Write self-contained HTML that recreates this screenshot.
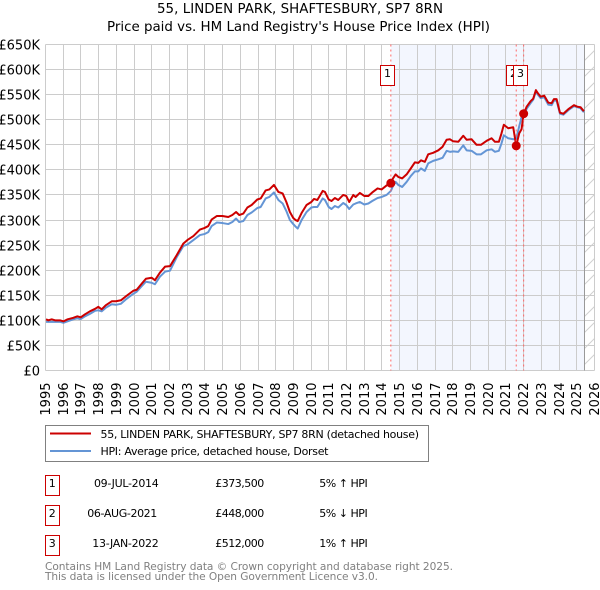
<!DOCTYPE html>
<html lang="en">
<head>
<meta charset="utf-8">
<title>55, Linden Park price paid vs HPI</title>
<style>
html,body{margin:0;padding:0;background:#fff;width:600px;height:590px;overflow:hidden}
svg{display:block}
text{font-family:"DejaVu Sans",sans-serif;fill:#000}
</style>
</head>
<body>
<svg id="chart" xmlns="http://www.w3.org/2000/svg" width="600" height="590" viewBox="0 0 600 590">
  <defs>
    <pattern id="hatch" patternUnits="userSpaceOnUse" width="16" height="16" y="44.5" x="584.5">
      <path d="M-2 18 L18 -2 M-2 2 L2 -2 M14 18 L18 14" stroke="#d0d0d0" stroke-width="1" fill="none"/>
    </pattern>
  </defs>
  <text x="157" y="13" font-size="13.4" textLength="286" lengthAdjust="spacing">55, LINDEN PARK, SHAFTESBURY, SP7 8RN</text>
  <text x="107" y="31" font-size="13.4" textLength="383" lengthAdjust="spacing">Price paid vs. HM Land Registry's House Price Index (HPI)</text>
  <g id="bands"></g>
  <g id="grid"></g>
  <g id="axes"></g>
  <g id="series"></g>
  <g id="sales"></g>

  <g>
    <rect x="45.5" y="425.5" width="383" height="36" fill="#fff" stroke="#808080" stroke-width="1"/>
    <line x1="50" x2="91" y1="433.5" y2="433.5" stroke="#cc0000" stroke-width="2"/>
    <text x="100.5" y="438" font-size="11" textLength="318.5" lengthAdjust="spacing">55, LINDEN PARK, SHAFTESBURY, SP7 8RN (detached house)</text>
    <line x1="50" x2="91" y1="451" y2="451" stroke="#6495d5" stroke-width="2"/>
    <text x="100.5" y="455" font-size="11" textLength="228" lengthAdjust="spacing">HPI: Average price, detached house, Dorset</text>
  </g>

  <g>
    <g>
      <rect x="45.5" y="475.5" width="14" height="20" fill="#fff" stroke="#cc0000"/>
      <text x="52.3" y="487" text-anchor="middle" font-size="11">1</text>
      <text x="94" y="487" font-size="11" textLength="64.7" lengthAdjust="spacing">09-JUL-2014</text>
      <text x="215.3" y="487" font-size="11" textLength="49" lengthAdjust="spacing">£373,500</text>
      <text x="319.3" y="487" font-size="11" textLength="48.4" lengthAdjust="spacing">5% ↑ HPI</text>
    </g>
    <g>
      <rect x="45.5" y="505.5" width="14" height="20" fill="#fff" stroke="#cc0000"/>
      <text x="52.3" y="517" text-anchor="middle" font-size="11">2</text>
      <text x="87.3" y="517" font-size="11" textLength="70" lengthAdjust="spacing">06-AUG-2021</text>
      <text x="215.3" y="517" font-size="11" textLength="49" lengthAdjust="spacing">£448,000</text>
      <text x="319.3" y="517" font-size="11" textLength="48.4" lengthAdjust="spacing">5% ↓ HPI</text>
    </g>
    <g>
      <rect x="45.5" y="535.5" width="14" height="20" fill="#fff" stroke="#cc0000"/>
      <text x="52.3" y="547" text-anchor="middle" font-size="11">3</text>
      <text x="92.3" y="547" font-size="11" textLength="66.4" lengthAdjust="spacing">13-JAN-2022</text>
      <text x="215.3" y="547" font-size="11" textLength="49" lengthAdjust="spacing">£512,000</text>
      <text x="319.3" y="547" font-size="11" textLength="48.4" lengthAdjust="spacing">1% ↑ HPI</text>
    </g>
  </g>

  <text x="45" y="570" font-size="10.6" textLength="408" lengthAdjust="spacing" style="fill:#808080">Contains HM Land Registry data © Crown copyright and database right 2025.</text>
  <text x="45" y="580" font-size="10.6" textLength="333" lengthAdjust="spacing" style="fill:#808080">This data is licensed under the Open Government Licence v3.0.</text>
</svg>
<script>
const yearTicks = [1995,1996,1997,1998,1999,2000,2001,2002,2003,2004,2005,2006,2007,2008,2009,2010,2011,2012,2013,2014,2015,2016,2017,2018,2019,2020,2021,2022,2023,2024,2025,2026];
const valueTicks = [0,50,100,150,200,250,300,350,400,450,500,550,600,650];
const valueTickLabels = ["£0","£50K","£100K","£150K","£200K","£250K","£300K","£350K","£400K","£450K","£500K","£550K","£600K","£650K"];
const dates = [1995.03,1995.16,1995.35,1995.54,1995.82,1996.01,1996.25,1996.57,1996.80,1996.99,1997.23,1997.51,1997.80,1997.98,1998.17,1998.40,1998.74,1998.98,1999.26,1999.58,1999.96,2000.15,2000.43,2000.67,2000.99,2001.18,2001.46,2001.75,2002.03,2002.41,2002.78,2003.01,2003.35,2003.72,2003.97,2004.19,2004.38,2004.67,2004.99,2005.32,2005.55,2005.76,2005.94,2006.17,2006.40,2006.64,2006.96,2007.15,2007.43,2007.64,2007.90,2008.15,2008.39,2008.60,2008.80,2008.99,2009.12,2009.24,2009.46,2009.74,2010.01,2010.16,2010.35,2010.65,2010.78,2010.99,2011.15,2011.34,2011.53,2011.81,2011.98,2012.15,2012.38,2012.51,2012.75,2013.00,2013.23,2013.45,2013.75,2013.98,2014.26,2014.50,2014.62,2014.77,2014.92,2015.14,2015.39,2015.63,2015.86,2016.05,2016.20,2016.42,2016.61,2016.89,2017.18,2017.42,2017.65,2017.84,2018.02,2018.31,2018.59,2018.78,2019.06,2019.34,2019.59,2019.91,2020.19,2020.38,2020.60,2020.75,2020.88,2021.13,2021.41,2021.58,2021.75,2021.88,2022.00,2022.17,2022.39,2022.54,2022.69,2022.82,2022.96,2023.16,2023.39,2023.58,2023.71,2023.86,2024.05,2024.24,2024.52,2024.84,2025.03,2025.21,2025.40];
const hpiValues = [97,97,97,97,97,95,98,102,104,102.5,108,113,119,120,118,125,132,131,133,143,153,157,168,177,175,172,187,197,199,226,248,251,260,270,272,276,288,295,294,292,296,303,296,298,310,315,324,326,343,346,355,340,333,318,300,292,287,283,300,316,325,326,326,343,340,326,322,328,325,334,330,322,331,333,336,331,333,338,344,346,350,358,368,376,370,366,376,388,397,397,403,398,413,418,421,424,438,436,437,436,449,439,438,431,431,439,441,436,438,453,469,463,461,462,487,505,507,522,533,540,557,549,543,545,530,529,538,538,512,510,519,527,525,523,515];
const pricePaidValues = [102,100,102,100,100,98,102,105,108,106,112,118,123,127,122,130,138,138,140,149,159,161,173,183,185,180,195,207,208,230,253,260,268,281,284,288,301,308,308,306,310,316,310,313,325,330,341,343,359,361,370,356,353,336,316,304,300,298,314,330,336,342,340,358,356,341,338,344,340,350,348,336,350,346,354,348,348,355,363,361,369,373.5,383,391,386,383,391,403,415,414,419,416,431,434,439,446,460,461,457,456,468,460,461,450,450,458,463,456,456,473,490,483,485,448,473,481,512,526,537,542,559,552,546,548,534,533,541,541,514,512,521,529,526,525,517];
const saleNumbers = ["1","2","3"];
const saleDates = [2014.5,2021.58,2022.0];
const salePrices = [373.5,448,512];
const dataEndDate = 2025.45;

const NS = "http://www.w3.org/2000/svg";
const plotLeft = 45.5, plotRight = 594.5, plotTop = 44.5, plotBottom = 370.5;
function xScale(year){ return plotLeft + (year - 1995) * (plotRight - plotLeft) / 31; }
function yScale(k){ return plotBottom - k * (plotBottom - plotTop) / 650; }
function snap(v){ return Math.floor(v) + 0.5; }
function make(parent, tag, attrs){
  const el = document.createElementNS(NS, tag);
  for (const k in attrs) el.setAttribute(k, attrs[k]);
  document.getElementById(parent).appendChild(el);
  return el;
}
function pathFor(values){
  return values.map(function(v, i){
    return (i ? "L" : "M") + xScale(dates[i]).toFixed(2) + " " + yScale(v).toFixed(2);
  }).join(" ");
}

const endX = snap(xScale(dataEndDate));
const firstSaleX = xScale(saleDates[0]);

const band = make("bands", "rect", {x: firstSaleX, y: plotTop, width: endX - firstSaleX, height: plotBottom - plotTop, fill: "#f3f6fe"});



const hatch = make("bands", "rect", {x: endX, y: plotTop, width: plotRight - endX, height: plotBottom - plotTop, fill: "url(#hatch)"});



yearTicks.forEach(function(year){
  const x = snap(xScale(year));
  const line = make("grid", "line", {x1: x, x2: x, y1: plotTop, y2: plotBottom, stroke: "#cccccc", "stroke-width": 1});
  
  
  const label = make("axes", "text", {transform: "translate(" + (x + 4.5) + ",382.5) rotate(-90)", "text-anchor": "end", "font-size": 13});
  
  
  label.textContent = String(year);
});

valueTicks.forEach(function(value, i){
  const y = snap(yScale(value));
  const line = make("grid", "line", {x1: plotLeft, x2: plotRight, y1: y, y2: y, stroke: "#cccccc", "stroke-width": 1});
  
  
  const label = make("axes", "text", {x: 40, y: y + 4.8, "text-anchor": "end", "font-size": 13});
  
  
  label.textContent = valueTickLabels[i];
});

const endLine = make("grid", "line", {x1: endX, x2: endX, y1: plotTop, y2: plotBottom, stroke: "#999999", "stroke-width": 1});



const hpiLine = make("series", "path", {d: pathFor(hpiValues), fill: "none", stroke: "#6495d5", "stroke-width": 2, "stroke-linejoin": "round"});



const priceLine = make("series", "path", {d: pathFor(pricePaidValues), fill: "none", stroke: "#cc0000", "stroke-width": 2, "stroke-linejoin": "round"});



saleDates.forEach(function(date, i){
  const x = xScale(date);
  const y = yScale(salePrices[i]);
  const rule = make("sales", "line", {x1: x, x2: x, y1: plotTop, y2: plotBottom, stroke: "#ff6666", "stroke-width": 1, "stroke-dasharray": "2 3"});
  
  
  const dot = make("sales", "circle", {cx: x, cy: y, r: 4.5, fill: "#cc0000"});
  
  
});

saleDates.forEach(function(date, i){
  const left = Math.floor(xScale(date)) - 9.5;
  const box = make("sales", "rect", {x: left, y: 65.5, width: 14, height: 20, fill: "#fff", stroke: "#cc0000", "stroke-width": 1});
  
  
  const num = make("sales", "text", {x: left + 7, y: 77, "text-anchor": "middle", "font-size": 11});
  
  
  num.textContent = saleNumbers[i];
});
</script>
</body>
</html>
